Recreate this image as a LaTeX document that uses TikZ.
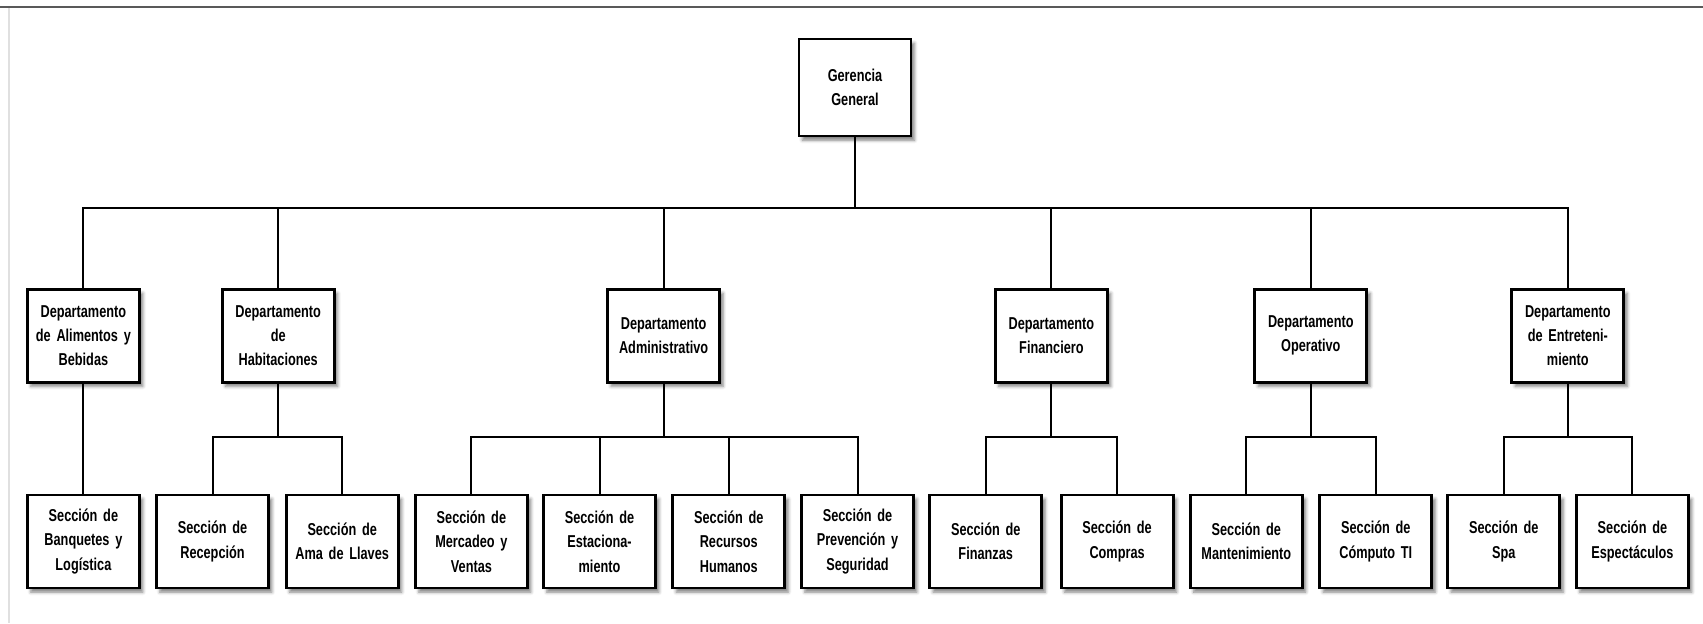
\documentclass[tikz,border=0pt]{standalone}
\usepackage{fontspec}
\setmainfont[FakeStretch=0.74]{Liberation Sans}
\usetikzlibrary{shadows.blur}

\begin{document}
\begin{tikzpicture}[x=0.5pt, y=-0.5pt,
	orgbox/.style={draw, line width=1.4pt, fill=white,
		minimum width=55.5pt, minimum height=46.5pt, inner sep=1pt,
		text width=54pt, align=center,
		font=\fontsize{8.6}{12.2}\selectfont\bfseries,
		blur shadow={shadow xshift=1.7pt, shadow yshift=-2.1pt,
			shadow blur radius=1.6pt, shadow opacity=50}},
	wire/.style={line width=1pt}]
	
	\useasboundingbox (0,0) rectangle (1703,623);
	
	% page frame
	\draw[black!65, line width=1pt] (0,7) -- (1703,7);
	\draw[black!12, line width=0.6pt] (9,8) -- (9,623);
	
	% levels of the chart
	\coordinate (bus) at (855,207.5);
	\coordinate (lvl) at (0,436.6);
	
	\node[orgbox, minimum height=48.5pt] (gg) at (855,87.5) {Gerencia\\General};
	
	% departamentos
	\node[orgbox] (dab)  at (83.4,335.6)   {Departamento\\de Alimentos y\\Bebidas};
	\node[orgbox] (dhab) at (278.2,335.6)  {Departamento\\de\\Habitaciones};
	\node[orgbox] (dadm) at (663.6,335.6)  {Departamento\\Administrativo};
	\node[orgbox] (dfin) at (1051.4,335.6) {Departamento\\Financiero};
	\node[orgbox] (dop)  at (1310.8,335.6) {Departamento\\Operativo};
	\node[orgbox] (dent) at (1567.8,335.6) {Departamento\\de Entreteni-\\miento};
	
	% secciones
	\node[orgbox] (sbq)   at (83.4,541.4)   {Secci\'on de\\Banquetes y\\Log\'istica};
	\node[orgbox] (srec)  at (212.5,541.4)  {Secci\'on de\\Recepci\'on};
	\node[orgbox] (sama)  at (342.2,541.4)  {Secci\'on de\\Ama de Llaves};
	\node[orgbox] (smer)  at (471.4,541.4)  {Secci\'on de\\Mercadeo y\\Ventas};
	\node[orgbox] (sest)  at (599.5,541.4)  {Secci\'on de\\Estaciona-\\miento};
	\node[orgbox] (srh)   at (728.8,541.4)  {Secci\'on de\\Recursos\\Humanos};
	\node[orgbox] (sprev) at (857.5,541.4)  {Secci\'on de\\Prevenci\'on y\\Seguridad};
	\node[orgbox] (sfin)  at (985.7,541.4)  {Secci\'on de\\Finanzas};
	\node[orgbox] (scom)  at (1117.1,541.4) {Secci\'on de\\Compras};
	\node[orgbox] (sman)  at (1246.3,541.4) {Secci\'on de\\Mantenimiento};
	\node[orgbox] (scpt)  at (1375.8,541.4) {Secci\'on de\\C\'omputo TI};
	\node[orgbox] (sspa)  at (1503.7,541.4) {Secci\'on de\\Spa};
	\node[orgbox] (sesp)  at (1632.4,541.4) {Secci\'on de\\Espect\'aculos};
	
	% connectors
	\draw[wire] (gg.south) -- (bus);
	\foreach \d in {dab, dhab, dadm, dfin, dop, dent}
		\draw[wire] (bus) -| (\d.north);
	
	\draw[wire] (dab.south) -- (sbq.north);
	\foreach \d/\s in {dhab/srec, dhab/sama, dadm/smer, dadm/sest, dadm/srh, dadm/sprev,
		dfin/sfin, dfin/scom, dop/sman, dop/scpt, dent/sspa, dent/sesp}
		\draw[wire] (\d.south) -- (\d.south |- lvl) -| (\s.north);
\end{tikzpicture}
\end{document}
